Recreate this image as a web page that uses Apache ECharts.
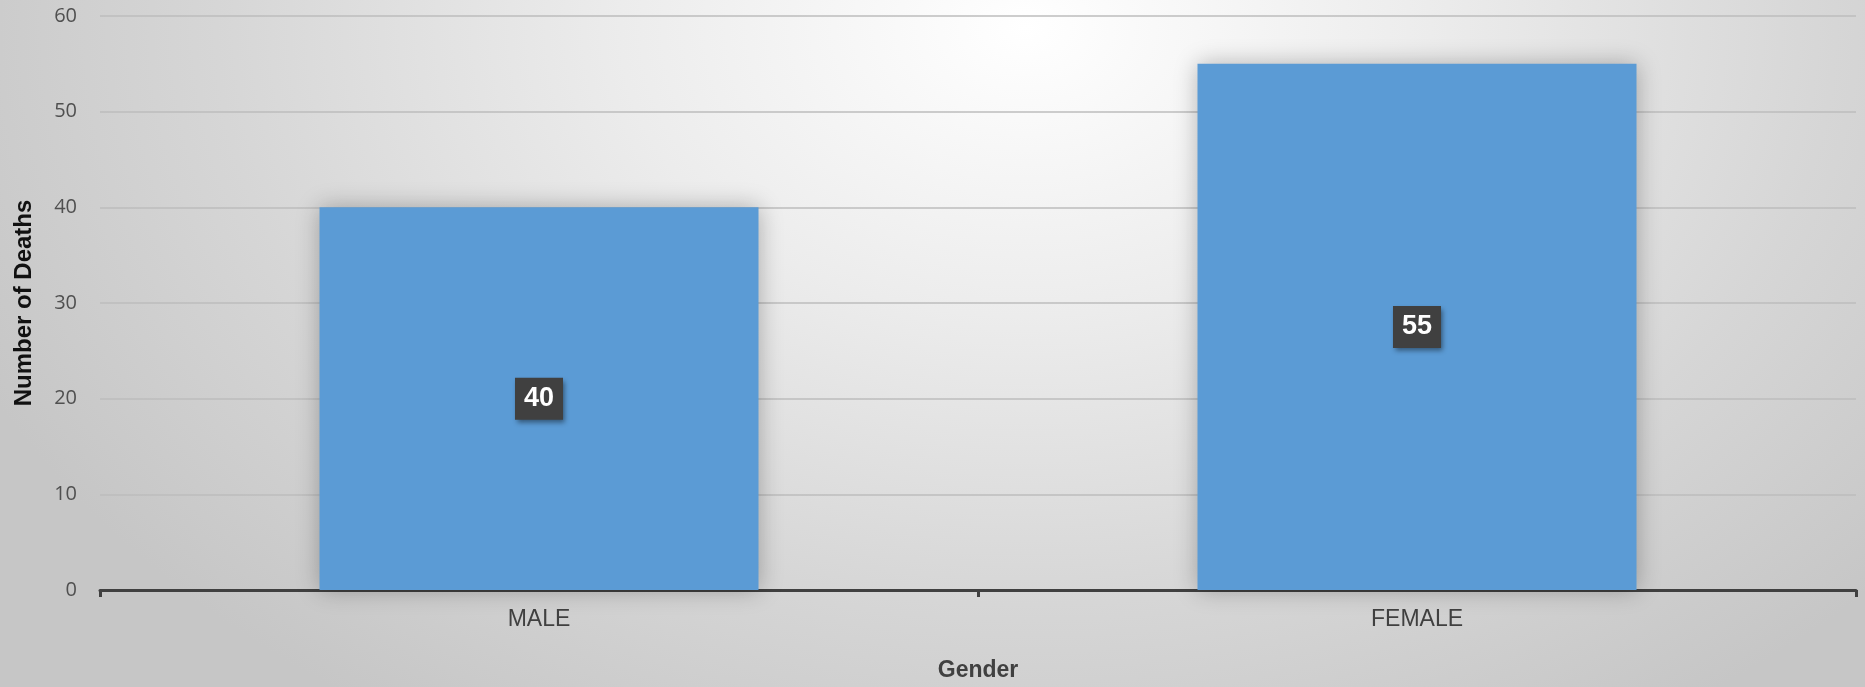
<!DOCTYPE html>
<html>
<head>
<meta charset="utf-8">
<script src="https://cdn.jsdelivr.net/npm/echarts@6/dist/echarts.min.js"></script>
<style>
html,body{margin:0;padding:0;width:1865px;height:687px;overflow:hidden;}
body{background: radial-gradient(ellipse 62% 120% at 55% 4%, #ffffff 0%, #ececec 35%, #d6d6d6 70%, #c6c6c6 100%);}
#chart{width:1865px;height:687px;}
</style>
</head>
<body>
<div id="chart"></div>
<script>
const categories = ['MALE', 'FEMALE'];
const deaths = [40, 55];
const yTitle = 'Number of Deaths';
const xTitle = 'Gender';

const chart = echarts.init(document.getElementById('chart'), null, {renderer: 'canvas'});
chart.setOption({
  backgroundColor: 'transparent',
  animation: false,
  grid: {left: 100, right: 9, top: 16, bottom: 94, containLabel: false},
  xAxis: {
    type: 'category',
    data: categories,
    name: xTitle,
    nameLocation: 'middle',
    nameGap: 69,
    nameTextStyle: {fontFamily: 'Liberation Sans, Arial, sans-serif', fontWeight: 'bold', fontSize: 23, color: '#404040'},
    axisLine: {lineStyle: {color: '#404040', width: 3}},
    axisTick: {show: true, length: 7, lineStyle: {color: '#404040', width: 3}},
    axisLabel: {fontFamily: 'Liberation Sans, Arial, sans-serif', fontSize: 23, color: '#404040', margin: 18},
    splitLine: {show: false}
  },
  yAxis: {
    type: 'value',
    min: 0, max: 60, interval: 10,
    name: yTitle,
    nameLocation: 'middle',
    nameGap: 64,
    nameRotate: 90,
    nameTextStyle: {fontFamily: 'Liberation Sans, Arial, sans-serif', fontWeight: 'bold', fontSize: 24, color: '#111111'},
    axisLine: {show: false},
    axisTick: {show: false},
    axisLabel: {fontFamily: 'Open Sans, sans-serif', fontSize: 20, color: '#505050', margin: 23},
    splitLine: {lineStyle: {color: '#bcbcbc', width: 1.5}}
  },
  series: [{
    type: 'bar',
    data: deaths,
    barWidth: '50%',
    itemStyle: {color: '#5b9bd5', shadowBlur: 22, shadowColor: 'rgba(0,0,0,0.28)'},
    label: {
      show: true,
      position: 'inside',
      fontFamily: 'Liberation Sans, Arial, sans-serif',
      fontWeight: 'bold',
      fontSize: 27,
      color: '#ffffff',
      backgroundColor: '#404040',
      padding: [9, 9, 6, 9],
      shadowBlur: 5,
      shadowOffsetX: 2,
      shadowOffsetY: 3,
      shadowColor: 'rgba(0,0,0,0.45)'
    }
  }]
});
</script>
</body>
</html>
